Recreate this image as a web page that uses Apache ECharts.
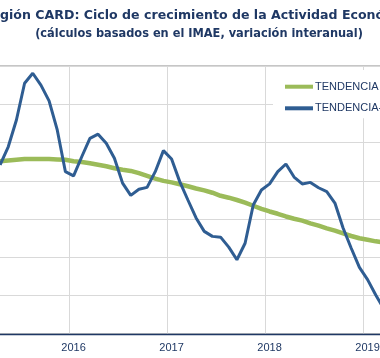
<!DOCTYPE html>
<html>
<head>
<meta charset="utf-8">
<script src="https://cdn.jsdelivr.net/npm/echarts@6/dist/echarts.min.js"></script>
<style>html,body{margin:0;padding:0;background:#fff;overflow:hidden;width:380px;height:358px}#c{width:392px;height:358px;margin-left:-4px}</style>
</head>
<body>
<div id="c"></div>
<script>
const titleText = 'Región CARD: Ciclo de crecimiento de la Actividad Económica';
const subtitleText = '(cálculos basados en el IMAE, variación interanual)';
const seriesNames = ['TENDENCIA', 'TENDENCIA-CICLO'];
const months = [
  '2015-04','2015-05','2015-06','2015-07','2015-08','2015-09','2015-10','2015-11','2015-12',
  '2016-01','2016-02','2016-03','2016-04','2016-05','2016-06','2016-07','2016-08','2016-09','2016-10','2016-11','2016-12',
  '2017-01','2017-02','2017-03','2017-04','2017-05','2017-06','2017-07','2017-08','2017-09','2017-10','2017-11','2017-12',
  '2018-01','2018-02','2018-03','2018-04','2018-05','2018-06','2018-07','2018-08','2018-09','2018-10','2018-11','2018-12',
  '2019-01','2019-02','2019-03'
];
const yearTicks = ['2016', '2017', '2018', '2019'];
const tendencia = [
  4.51, 4.53, 4.55, 4.57, 4.57, 4.57, 4.57, 4.56, 4.55,
  4.51, 4.49, 4.46, 4.42, 4.38, 4.33, 4.29, 4.26, 4.20, 4.13, 4.06, 4.00,
  3.96, 3.91, 3.86, 3.80, 3.75, 3.69, 3.61, 3.56, 3.50, 3.43, 3.35, 3.27,
  3.20, 3.14, 3.07, 3.01, 2.96, 2.89, 2.83, 2.76, 2.70, 2.63, 2.56, 2.50,
  2.46, 2.42, 2.39
];
const tendenciaCiclo = [
  4.42, 4.89, 5.59, 6.55, 6.81, 6.50, 6.09, 5.33, 4.24,
  4.13, 4.63, 5.11, 5.22, 4.98, 4.59, 3.94, 3.62, 3.78, 3.83, 4.24, 4.79,
  4.57, 3.98, 3.50, 3.03, 2.68, 2.55, 2.53, 2.27, 1.94, 2.37, 3.37, 3.76,
  3.92, 4.24, 4.44, 4.10, 3.92, 3.96, 3.82, 3.72, 3.42, 2.77, 2.24, 1.74,
  1.42, 1.02, 0.65
];

const navy = '#1F3864';
const off = 4; // container shifted 4px left
const ctx = document.createElement('canvas').getContext('2d');
function measure(text, weight, size, family) {
  ctx.font = weight + ' ' + size + 'px ' + family;
  return ctx.measureText(text).width;
}
const tFam = '"DejaVu Sans"';
const tWeight = 'bold';
const tSize = 13 * 367 / measure('gión CARD: Ciclo de crecimiento de la Actividad Eco', tWeight, 13, tFam);
const tX = -measure('Re', tWeight, tSize, tFam);
const sSize = 11 * 328 / measure(subtitleText, 'bold', 11, tFam);

const isJan = (i) => months[i] && months[i].slice(5) === '01';

const chart = echarts.init(document.getElementById('c'), null, {renderer: 'canvas'});
chart.setOption({
  animation: false,
  backgroundColor: '#fff',
  graphic: [
    {type: 'text', x: tX + off, y: 15.3, z: 10, style: {text: titleText, fill: navy, font: tWeight + ' ' + tSize.toFixed(2) + 'px ' + tFam, align: 'left', verticalAlign: 'middle'}},
    {type: 'text', x: 199 + off, y: 34, z: 10, style: {text: subtitleText, fill: navy, font: 'bold ' + sSize.toFixed(2) + 'px ' + tFam, align: 'center', verticalAlign: 'middle'}}
  ],
  grid: {left: 0, right: 0, top: 66, bottom: 24, show: true, borderColor: '#8C8C8C', borderWidth: 1, backgroundColor: 'transparent'},
  legend: {
    orient: 'vertical', left: 273 + off, top: 70, backgroundColor: '#fff',
    padding: [10.7, 20, 4, 12], itemWidth: 28, itemHeight: 4, itemGap: 9.6,
    data: [{name: seriesNames[0], icon: 'rect'}, {name: seriesNames[1], icon: 'rect'}],
    textStyle: {color: navy, fontSize: 11, lineHeight: 12, fontFamily: '"Liberation Sans"', padding: [0, 0, 0, -3]}
  },
  xAxis: {
    type: 'category', data: months, boundaryGap: true,
    axisLine: {lineStyle: {color: navy, width: 1.3}},
    axisTick: {interval: (i) => isJan(i), length: 4, lineStyle: {color: navy}},
    axisLabel: {interval: (i) => isJan(i), formatter: (v) => yearTicks.find(y => v.startsWith(y)) || '', color: navy, fontSize: 11, fontFamily: '"Liberation Sans"', margin: 8},
    splitLine: {show: true, interval: (i) => isJan(i), lineStyle: {color: '#D9D9D9', width: 1}}
  },
  yAxis: {
    type: 'value', min: 0, max: 7, interval: 1,
    axisLine: {show: false}, axisTick: {show: false}, axisLabel: {show: false},
    splitLine: {lineStyle: {color: '#D9D9D9', width: 1}}
  },
  series: [
    {name: seriesNames[0], type: 'line', data: tendencia, symbol: 'none', lineStyle: {color: '#9BBB59', width: 4.5}, itemStyle: {color: '#9BBB59'}, z: 2},
    {name: seriesNames[1], type: 'line', data: tendenciaCiclo, symbol: 'none', lineStyle: {color: '#2F5D92', width: 3}, itemStyle: {color: '#2F5D92'}, z: 3}
  ]
});
</script>
</body>
</html>
